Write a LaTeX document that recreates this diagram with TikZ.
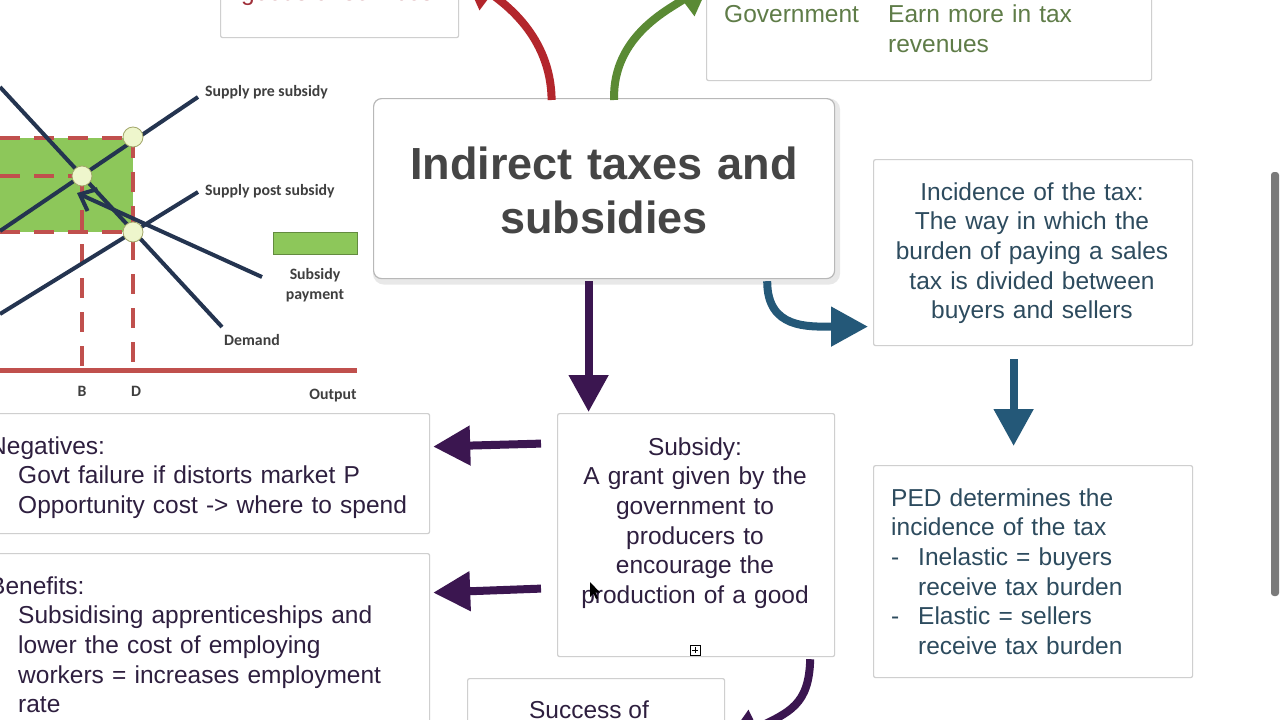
\documentclass[tikz,border=0pt]{standalone}
\usepackage{fontspec}
\setmainfont{Liberation Sans}
\newfontfamily\calfont{Carlito}
\usetikzlibrary{arrows.meta,calc}
\definecolor{purp}{HTML}{3B1650}
\definecolor{purptext}{HTML}{2E1F3F}
\definecolor{bluearr}{HTML}{245878}
\definecolor{bluetext}{HTML}{2D4B5E}
\definecolor{redarr}{HTML}{B3262C}
\definecolor{redtext}{HTML}{A0303A}
\definecolor{greenarr}{HTML}{5A8A34}
\definecolor{greentext}{HTML}{5F7C48}
\definecolor{ctrtext}{HTML}{454545}
\definecolor{navy}{HTML}{243450}
\definecolor{dashred}{HTML}{C0504D}
\definecolor{subgreen}{HTML}{8DC75A}
\definecolor{dotfill}{HTML}{EEF6CC}
\definecolor{boxgray}{HTML}{CFCFCF}
\definecolor{lbl}{HTML}{3F3F3F}
\definecolor{scrollg}{HTML}{7A7A7A}
\begin{document}
\begin{tikzpicture}[x=1pt,y=-1pt,
  box/.style={draw=boxgray, line width=1.2pt, fill=white, rounded corners=2pt, inner sep=0pt, anchor=north west},
  bodytxt/.style={font=\fontsize{24.5}{29.7}\selectfont, inner sep=0pt},
  arrowline/.style={line width=8pt},
  bigtip/.style={-{Triangle[length=37pt,width=38pt]}},
  graphline/.style={draw=navy, line width=4pt},
  dashr/.style={draw=dashred, line width=4pt, dash pattern=on 20pt off 14pt},
  dotc/.style={fill=dotfill, draw=black!25!dotfill!70!olive, line width=0.8pt},
  glabel/.style={font=\calfont\bfseries\fontsize{15.8}{18}\selectfont, text=lbl, inner sep=0pt}
]
\clip (0,0) rectangle (1280,720);
\fill[white] (0,0) rectangle (1280,720);

% ---------- boxes ----------
\node[box, minimum width=238pt, minimum height=60pt] (tl) at (220,-23) {};
\node[box, minimum width=445pt, minimum height=100pt] (tr) at (706,-20) {};
\node[box, draw=black!9, line width=6pt, rounded corners=8pt, minimum width=461pt, minimum height=180pt] (ctrshadow) at (373,98.5) {};
\node[box, draw=black!28, line width=1.2pt, rounded corners=8pt, minimum width=461pt, minimum height=180pt] (ctr) at (373,98) {};
\node[box, minimum width=449pt, minimum height=120pt] (neg) at (-20,413) {};
\node[box, minimum width=449pt, minimum height=200pt] (ben) at (-20,553) {};
\node[box, minimum width=277pt, minimum height=243pt] (sub) at (557,413) {};
\node[box, minimum width=257pt, minimum height=80pt] (suc) at (467,678) {};
\node[box, minimum width=319pt, minimum height=186pt] (inc) at (873,159) {};
\node[box, minimum width=319pt, minimum height=212pt] (ped) at (873,465) {};

% ---------- texts ----------
\node[bodytxt, text=redtext, anchor=base west] (tlT) at (241,0.5) {goods or services};
\node[bodytxt, text=greentext, anchor=base west] (trA) at (724,23) {Government};
\node[bodytxt, text=greentext, anchor=base west, text width=250pt, align=left] (trB) at (888,23) {Earn more in tax\\revenues};
\node[inner sep=0pt, text=ctrtext, font=\bfseries\fontsize{45}{54}\selectfont, anchor=base, text width=460pt, align=center] (ctrT) at (604,179) {Indirect taxes and\\subsidies};
\node[bodytxt, text=purptext, anchor=base west, text width=460pt, align=left] (negT) at (-11,454)
  {Negatives:\\\hspace*{29pt}Govt failure if distorts market P\\\hspace*{29pt}Opportunity cost -> where to spend};
\node[bodytxt, text=purptext, anchor=base west, text width=460pt, align=left] (benT) at (-11,594)
  {Benefits:\\\hspace*{29pt}Subsidising apprenticeships and\\\hspace*{29pt}lower the cost of employing\\\hspace*{29pt}workers = increases employment\\\hspace*{29pt}rate};
\node[bodytxt, text=purptext, anchor=base, text width=275pt, align=center] (subT) at (695,455)
  {Subsidy:\\A grant given by the\\government to\\producers to\\encourage the\\production of a good};
\node[bodytxt, text=purptext, anchor=base] (sucT) at (589,718) {Success of};
\node[bodytxt, text=bluetext, anchor=base, text width=315pt, align=center] (incT) at (1032,200)
  {Incidence of the tax:\\The way in which the\\burden of paying a sales\\tax is divided between\\buyers and sellers};
\node[bodytxt, text=bluetext, anchor=base west, text width=300pt, align=left] (pedT) at (891,506)
  {PED determines the\\incidence of the tax\\\makebox[27pt][l]{-}Inelastic = buyers\\\hspace*{27pt}receive tax burden\\\makebox[27pt][l]{-}Elastic = sellers\\\hspace*{27pt}receive tax burden};

% small expand icon and cursor
\draw[black, line width=0.8pt] (690,645) rectangle (700,655);
\draw[black, line width=0.7pt] (695,647) -- (695,653) (692,650) -- (698,650);
\fill[black] (590,582) -- (590,597) -- (593.5,593.5) -- (596,599) -- (598,598) -- (595.5,592.5) -- (600,592.5) -- cycle;

% ---------- arrows ----------
\coordinate (redend) at (462,-28);
\coordinate (greenend) at (712,-22);
\coordinate (sucend) at (724,744);
\draw[redarr, arrowline, bigtip] ($(ctr.north)+(-52.5,2)$) .. controls (551,35) and (502,2) .. (redend);
\draw[greenarr, arrowline, bigtip] ($(ctr.north)+(10,2)$) .. controls (612,35) and (672,8) .. (greenend);
\draw[purp, arrowline, bigtip] ($(ctr.south)+(-15.5,2)$) -- ($(sub.north)+(-107.5,-1)$);
\draw[purp, arrowline, bigtip] ($(sub.west)+(-16,-91.5)$) -- ($(neg.east)+(3,-27)$);
\draw[purp, arrowline, bigtip] ($(sub.west)+(-16,53.5)$) -- ($(ben.east)+(3,-61)$);
\draw[purp, arrowline, bigtip] ($(sub.south east)+(-25,2)$) .. controls (809,705) and (790,712) .. (sucend);
\draw[bluearr, arrowline, bigtip] ($(ctr.south east)+(-68,2)$) .. controls +(0,48) and +(-60,0) .. ($(inc.west)+(-5,74)$);
\draw[bluearr, arrowline, bigtip] ($(inc.south)+(-19.5,13)$) -- ($(ped.north)+(-19.5,-19)$);

% ---------- graph ----------
\fill[subgreen] (-5,138) rectangle (133,232);
\draw[dashr] (0,138) -- (133,138);
\draw[dashr] (0,176) -- (82,176);
\draw[dashr] (0,232) -- (133,232);
\draw[dashr] (133,138) -- (133,370);
\draw[dashr] (82,176) -- (82,370);
\draw[draw=dashred, line width=5pt] (-5,370) -- (357,370);
\draw[graphline] (0,231) -- (198,97);
\draw[graphline] (0,314) -- (198,192);
\draw[graphline] (0,87) -- (222,327);
\draw[graphline, -{Straight Barb[length=14pt,width=24pt,line width=4pt]}] (262,277) -- (77,193);
\filldraw[dotc] (133,137) circle (10);
\filldraw[dotc] (82,176) circle (10);
\filldraw[dotc] (133,232) circle (10);
\filldraw[fill=subgreen, draw=black!30!subgreen, line width=1pt] (273,232) rectangle (357,254);

\node[glabel, anchor=west] (lspre) at (205,92) {Supply pre subsidy};
\node[glabel, anchor=west] (lspost) at (205,191) {Supply post subsidy};
\node[glabel] (ldem) at (252,340) {Demand};
\node[glabel] (lsub1) at (315,275) {Subsidy};
\node[glabel] (lsub2) at (315,296) {payment};
\node[glabel] (lB) at (82,391) {B};
\node[glabel] (lD) at (136,391) {D};
\node[glabel] (lout) at (333,396) {Output};

% scrollbar
\fill[scrollg, rounded corners=3pt] (1271,172) rectangle (1279,596);
\end{tikzpicture}
\end{document}
